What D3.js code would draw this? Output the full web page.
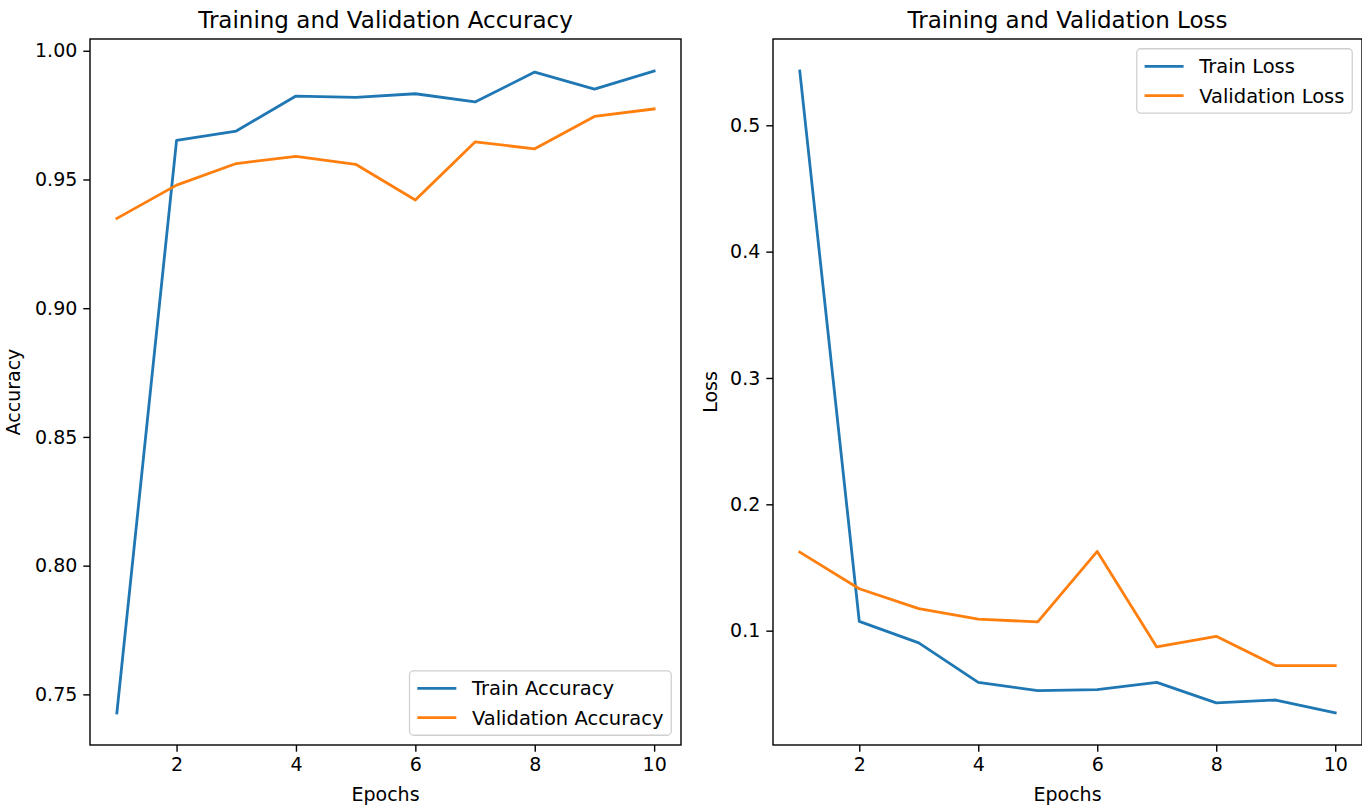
<!DOCTYPE html>
<html>
<head>
<meta charset="utf-8">
<script src="https://cdn.jsdelivr.net/npm/d3@7"></script>
<style>
  body { margin: 0; background: #fff; }
  svg { display: block; }
  text { font-family: "DejaVu Sans", sans-serif; fill: #000; }
</style>
</head>
<body>
<svg id="chart" width="1362" height="809"></svg>
<script>
/* Data */
var epochs = [1, 2, 3, 4, 5, 6, 7, 8, 9, 10];
var trainAcc = [0.7428, 0.9652, 0.9688, 0.9824, 0.9819, 0.9833, 0.9801, 0.9917, 0.9851, 0.9921];
var valAcc = [0.9349, 0.9478, 0.9562, 0.9590, 0.9559, 0.9420, 0.9646, 0.9619, 0.9745, 0.9774];
var trainLoss = [0.5429, 0.1074, 0.0903, 0.0591, 0.0526, 0.0534, 0.0591, 0.0428, 0.0451, 0.0349];
var valLoss = [0.1622, 0.1332, 0.1174, 0.1092, 0.1069, 0.1627, 0.0871, 0.0955, 0.0723, 0.0723];
var xTicks = [2, 4, 6, 8, 10];
var accTicks = [0.75, 0.80, 0.85, 0.90, 0.95, 1.00];
var lossTicks = [0.1, 0.2, 0.3, 0.4, 0.5];

var BLUE = "#1f77b4", ORANGE = "#ff7f0e";
var FS = 19;            // tick / label font size
var LEGEND_FS = 19.5;
var TITLE_FS = 23;
var TICK = 6.7;

var svg = d3.select("#chart");

// matplotlib style 5% margins
function padded(values) {
    var lo = d3.min(values), hi = d3.max(values), m = (hi - lo) * 0.05;
    return [lo - m, hi + m];
}

function drawPanel(opt) {
    var x = d3.scaleLinear().domain(padded(epochs)).range([opt.x0, opt.x1]);
    var y = d3.scaleLinear().domain(padded(opt.series[0].values.concat(opt.series[1].values))).range([opt.y1, opt.y0]);

    var g = svg.append("g");

    // lines
    opt.series.forEach(function (s) {
        var line = d3.line()
            .x(function (d, i) { return x(epochs[i]); })
            .y(function (d) { return y(d); });
        g.append("path")
            .datum(s.values)
            .attr("fill", "none")
            .attr("stroke", s.color)
            .attr("stroke-width", 2.8)
            .attr("stroke-linejoin", "round")
            .attr("stroke-linecap", "square")
            .attr("d", line);
    });

    // axes
    var xAxis = g.append("g")
        .attr("transform", "translate(0," + opt.y1 + ")")
        .call(d3.axisBottom(x).tickValues(xTicks).tickSize(TICK).tickPadding(6).tickFormat(d3.format("d")));
    var yAxis = g.append("g")
        .attr("transform", "translate(" + opt.x0 + ",0)")
        .call(d3.axisLeft(y).tickValues(opt.yTicks).tickSize(TICK).tickPadding(6).tickFormat(d3.format(opt.yFormat)));
    [xAxis, yAxis].forEach(function (a) {
        a.select(".domain").remove();
        a.selectAll("line").attr("stroke", "#000").attr("stroke-width", 1.4);
        a.selectAll("text").style("font-size", FS + "px").attr("font-family", null);
    });

    // frame
    g.append("rect")
        .attr("x", opt.x0).attr("y", opt.y0)
        .attr("width", opt.x1 - opt.x0).attr("height", opt.y1 - opt.y0)
        .attr("fill", "none").attr("stroke", "#000").attr("stroke-width", 1.4);

    // title and labels
    var cx = (opt.x0 + opt.x1) / 2;
    g.append("text").attr("x", cx).attr("y", 28).attr("text-anchor", "middle")
        .style("font-size", TITLE_FS + "px").text(opt.title);
    g.append("text").attr("x", cx).attr("y", 801).attr("text-anchor", "middle")
        .style("font-size", FS + "px").text("Epochs");
    g.append("text")
        .attr("transform", "translate(" + opt.ylabelX + "," + ((opt.y0 + opt.y1) / 2) + ") rotate(-90)")
        .attr("text-anchor", "middle")
        .style("font-size", FS + "px").text(opt.ylabel);

    drawLegend(g, opt);
}

/* Legend box, laid out like matplotlib's */
function drawLegend(g, opt) {
    var em = LEGEND_FS, pad = 0.4 * em, handle = 2 * em, hpad = 0.8 * em, rowH = 1.0 * em, gap = 0.5 * em, axPad = 0.5 * em;
    var lg = g.append("g");
    var box = lg.append("rect");
    var widths = [];
    var items = opt.series.map(function (s) {
        var t = lg.append("text").style("font-size", LEGEND_FS + "px").text(s.label);
        widths.push(t.node().getComputedTextLength());
        return t;
    });
    var w = 2 * pad + handle + hpad + d3.max(widths);
    var h = 2 * pad + items.length * rowH + (items.length - 1) * gap;
    var bx = opt.x1 - axPad - w;
    var by = opt.legendLoc === "lower right" ? opt.y1 - axPad - h : opt.y0 + axPad;
    box.attr("x", bx).attr("y", by).attr("width", w).attr("height", h)
        .attr("rx", 4).attr("ry", 4)
        .attr("fill", "#fff").attr("fill-opacity", 0.8)
        .attr("stroke", "#d0d0d0").attr("stroke-width", 1.3);
    opt.series.forEach(function (s, i) {
        var cy = by + pad + i * (rowH + gap) + rowH / 2;
        lg.append("line")
            .attr("x1", bx + pad).attr("x2", bx + pad + handle)
            .attr("y1", cy).attr("y2", cy)
            .attr("stroke", s.color).attr("stroke-width", 2.8);
        items[i].attr("x", bx + pad + handle + hpad).attr("y", cy).attr("dy", "0.36em");
    });
}

drawPanel({
    x0: 90, x1: 681, y0: 39, y1: 745,
    title: "Training and Validation Accuracy",
    ylabel: "Accuracy", ylabelX: 20,
    yTicks: accTicks, yFormat: ".2f",
    legendLoc: "lower right",
    series: [
        { label: "Train Accuracy", values: trainAcc, color: BLUE },
        { label: "Validation Accuracy", values: valAcc, color: ORANGE }
    ]
});

drawPanel({
    x0: 773, x1: 1362, y0: 39, y1: 745,
    title: "Training and Validation Loss",
    ylabel: "Loss", ylabelX: 717,
    yTicks: lossTicks, yFormat: ".1f",
    legendLoc: "upper right",
    series: [
        { label: "Train Loss", values: trainLoss, color: BLUE },
        { label: "Validation Loss", values: valLoss, color: ORANGE }
    ]
});
</script>
</body>
</html>
